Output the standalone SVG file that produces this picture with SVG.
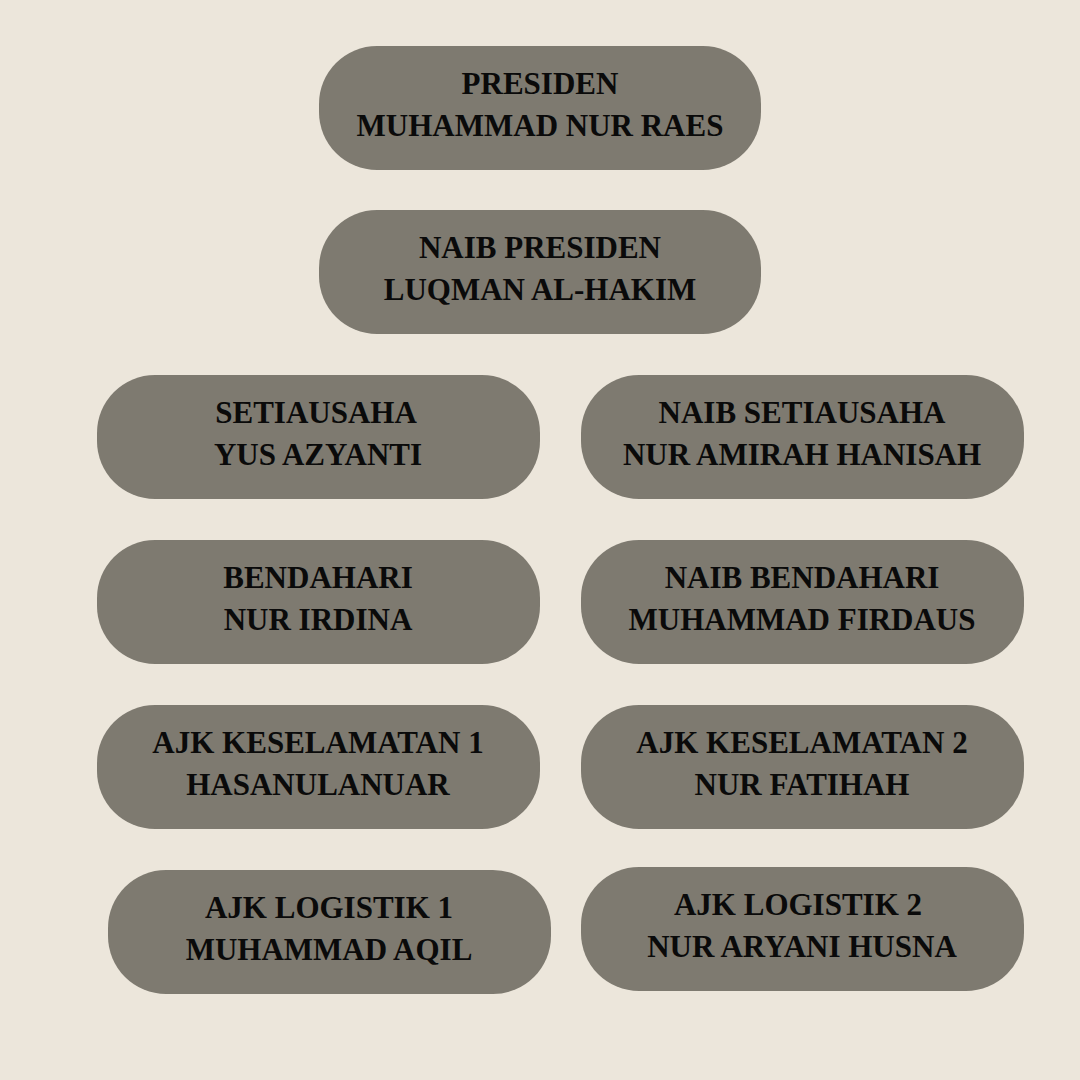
<svg xmlns="http://www.w3.org/2000/svg" width="1080" height="1080" viewBox="0 0 1080 1080">
<style>
.box{fill:#7e7a70;}
.t{font-family:"Liberation Serif","DejaVu Serif",serif;font-weight:bold;font-size:31px;fill:#0a0a0a;text-anchor:middle;}
</style>
<rect width="1080" height="1080" fill="#ece6db"/>
<g id="connectors"></g>
<g id="presiden"><rect class="box" x="319" y="46" width="442" height="124" rx="58"/><text class="t" x="540" y="94">PRESIDEN</text><text class="t" x="540" y="136">MUHAMMAD NUR RAES</text></g>
<g id="naib-presiden"><rect class="box" x="319" y="210" width="442" height="124" rx="58"/><text class="t" x="540" y="258">NAIB PRESIDEN</text><text class="t" x="540" y="300">LUQMAN AL-HAKIM</text></g>
<g id="setiausaha"><rect class="box" x="97" y="375" width="443" height="124" rx="58"/><text class="t" x="316" y="423">SETIAUSAHA</text><text class="t" x="318" y="465">YUS AZYANTI</text></g>
<g id="naib-setiausaha"><rect class="box" x="581" y="375" width="443" height="124" rx="58"/><text class="t" x="802" y="423">NAIB SETIAUSAHA</text><text class="t" x="802" y="465">NUR AMIRAH HANISAH</text></g>
<g id="bendahari"><rect class="box" x="97" y="540" width="443" height="124" rx="58"/><text class="t" x="318" y="588">BENDAHARI</text><text class="t" x="318" y="630">NUR IRDINA</text></g>
<g id="naib-bendahari"><rect class="box" x="581" y="540" width="443" height="124" rx="58"/><text class="t" x="802" y="588">NAIB BENDAHARI</text><text class="t" x="802" y="630">MUHAMMAD FIRDAUS</text></g>
<g id="ajk-keselamatan-1"><rect class="box" x="97" y="705" width="443" height="124" rx="58"/><text class="t" x="318" y="753">AJK KESELAMATAN 1</text><text class="t" x="318" y="795">HASANULANUAR</text></g>
<g id="ajk-keselamatan-2"><rect class="box" x="581" y="705" width="443" height="124" rx="58"/><text class="t" x="802" y="753">AJK KESELAMATAN 2</text><text class="t" x="802" y="795">NUR FATIHAH</text></g>
<g id="ajk-logistik-1"><rect class="box" x="108" y="870" width="443" height="124" rx="58"/><text class="t" x="329" y="918">AJK LOGISTIK 1</text><text class="t" x="329" y="960">MUHAMMAD AQIL</text></g>
<g id="ajk-logistik-2"><rect class="box" x="581" y="867" width="443" height="124" rx="58"/><text class="t" x="798" y="915">AJK LOGISTIK 2</text><text class="t" x="802" y="957">NUR ARYANI HUSNA</text></g>
</svg>
